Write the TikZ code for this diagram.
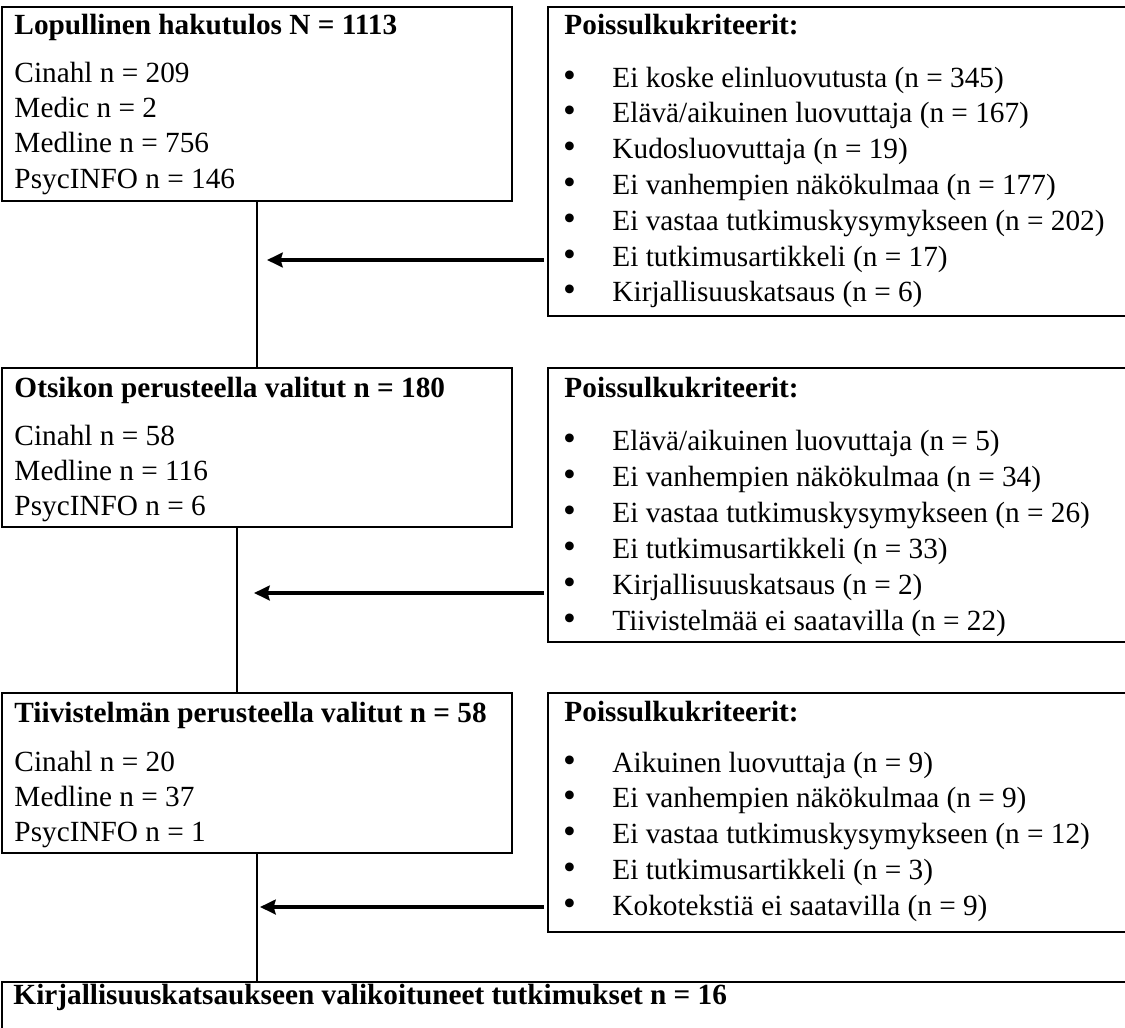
\documentclass[tikz,border=0pt]{standalone}
\usepackage{fontspec}
\setmainfont{Liberation Serif}
\usetikzlibrary{arrows.meta,calc}
\begin{document}
\begin{tikzpicture}[x=0.41pt,y=-0.41pt,
  box/.style={draw,line width=0.82pt,inner sep=0pt,outer sep=0pt,anchor=north west},
  txt/.style={anchor=base west,inner sep=0pt,font=\fontsize{12}{14}\selectfont},
  ttl/.style={anchor=base west,inner sep=0pt,font=\fontsize{12}{14}\selectfont\bfseries},
  bul/.style={anchor=base,inner sep=0pt,font=\fontsize{15}{16}\selectfont},
  flow/.style={line width=0.82pt},
  excl/.style={line width=1.45pt,-{Stealth[length=6.4pt,width=6pt,inset=0.8pt]}}]
\useasboundingbox (0,0) rectangle (1125,1027);

% boxes
\node[box,minimum width=209.1pt,minimum height=79.54pt]  (A) at (2,7) {};
\node[box,minimum width=242.72pt,minimum height=126.69pt] (B) at (548,7) {};
\node[box,minimum width=209.1pt,minimum height=65.19pt]  (C) at (2,368) {};
\node[box,minimum width=242.72pt,minimum height=112.34pt] (D) at (548,368) {};
\node[box,minimum width=209.1pt,minimum height=65.6pt]   (E) at (2,693) {};
\node[box,minimum width=242.72pt,minimum height=97.99pt]  (F) at (548,693) {};
\node[box,minimum width=466.58pt,minimum height=25.83pt]  (G) at (2,982) {};

% box A
\node[ttl] (Atitle) at (14,35) {Lopullinen hakutulos N = 1113};
\foreach \t [count=\k from 0] in {Cinahl n = 209, Medic n = 2, Medline n = 756, PsycINFO n = 146}
  \node[txt] (Aline\k) at (14,{83+35*\k}) {\t};

% box B
\node[ttl] (Btitle) at (564,35) {Poissulkukriteerit:};
\foreach \t [count=\k from 0] in {Ei koske elinluovutusta (n = 345), Elävä/aikuinen luovuttaja (n = 167), Kudosluovuttaja (n = 19), Ei vanhempien näkökulmaa (n = 177), Ei vastaa tutkimuskysymykseen (n = 202), Ei tutkimusartikkeli (n = 17), Kirjallisuuskatsaus (n = 6)}{
  \node[bul] (Bbul\k) at (569.5,{87+35.83*\k}) {•};
  \node[txt] (Bitem\k) at (612,{87+35.83*\k}) {\t};
}

% box C
\node[ttl] (Ctitle) at (14,397) {Otsikon perusteella valitut n = 180};
\foreach \t [count=\k from 0] in {Cinahl n = 58, Medline n = 116, PsycINFO n = 6}
  \node[txt] (Cline\k) at (14,{445+35*\k}) {\t};

% box D
\node[ttl] (Dtitle) at (564,397) {Poissulkukriteerit:};
\foreach \t [count=\k from 0] in {Elävä/aikuinen luovuttaja (n = 5), Ei vanhempien näkökulmaa (n = 34), Ei vastaa tutkimuskysymykseen (n = 26), Ei tutkimusartikkeli (n = 33), Kirjallisuuskatsaus (n = 2), Tiivistelmää ei saatavilla (n = 22)}{
  \node[bul] (Dbul\k) at (569.5,{450+36*\k}) {•};
  \node[txt] (Ditem\k) at (612,{450+36*\k}) {\t};
}

% box E
\node[ttl] (Etitle) at (14,722) {Tiivistelmän perusteella valitut n = 58};
\foreach \t [count=\k from 0] in {Cinahl n = 20, Medline n = 37, PsycINFO n = 1}
  \node[txt] (Eline\k) at (14,{771+35*\k}) {\t};

% box F
\node[ttl] (Ftitle) at (564,721) {Poissulkukriteerit:};
\foreach \t [count=\k from 0] in {Aikuinen luovuttaja (n = 9), Ei vanhempien näkökulmaa (n = 9), Ei vastaa tutkimuskysymykseen (n = 12), Ei tutkimusartikkeli (n = 3), Kokotekstiä ei saatavilla (n = 9)}{
  \node[bul] (Fbul\k) at (569.5,{772+35.75*\k}) {•};
  \node[txt] (Fitem\k) at (612,{772+35.75*\k}) {\t};
}

% box G
\node[ttl] (Gtitle) at (13,1004) {Kirjallisuuskatsaukseen valikoituneet tutkimukset n = 16};

% vertical flow lines
\draw[flow] (A.south) -- (A.south |- C.north);
\draw[flow] ($(C.south west)+(235,0)$) -- ($(E.north west)+(235,0)$);
\draw[flow] (E.south) -- (E.south |- G.north);

% exclusion arrows
\coordinate (t1) at (267,260);
\coordinate (t2) at (254,593);
\coordinate (t3) at (260,907);
\draw[excl] ($(B.west |- t1)+(-4,0)$) -- (t1);
\draw[excl] ($(D.west |- t2)+(-4,0)$) -- (t2);
\draw[excl] ($(F.west |- t3)+(-4,0)$) -- (t3);
\end{tikzpicture}
\end{document}
